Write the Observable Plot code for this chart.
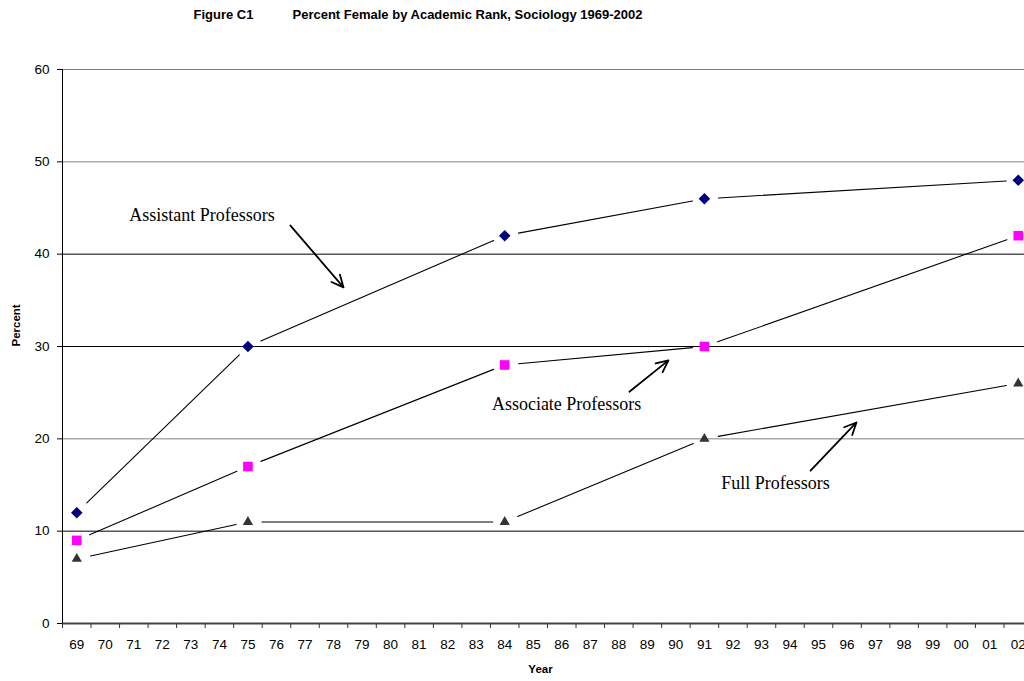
<!DOCTYPE html>
<html><head><meta charset="utf-8">
<script src="https://cdn.jsdelivr.net/npm/d3@7"></script>
<script src="https://cdn.jsdelivr.net/npm/@observablehq/plot@0.6"></script>
<style>body{margin:0;background:#fff}</style>
</head><body><div id="chart"></div>
<script>
const yearLabels = ["69","70","71","72","73","74","75","76","77","78","79","80","81","82","83","84","85","86","87","88","89","90","91","92","93","94","95","96","97","98","99","00","01","02"];
const seriesYears = ["69","75","84","91","02"];
const assistant = [12, 30, 42, 46, 48];
const associate = [9, 17, 28, 30, 42];
const full = [7, 11, 11, 20, 26];
const yTicks = [0, 10, 20, 30, 40, 50, 60];
const noteTexts = ["Assistant Professors", "Associate Professors", "Full Professors"];
const noteX = [4.39, 17.17, 24.49];
const noteY = [44.2, 23.7, 15.15];
const arrowX1 = [7.49, 19.37, 25.72];
const arrowY1 = [43.1, 25.1, 16.57];
const arrowX2 = [9.35, 20.74, 27.33];
const arrowY2 = [36.4, 28.5, 21.77];

const idx = yr => yearLabels.indexOf(yr);
const series = [
  {values: assistant, symbol: "diamond2", fill: "#000080", r: 5.2},
  {values: associate, symbol: "square", fill: "#ff00ff", r: 5.4},
  {values: full, symbol: "triangle", fill: "#333333", r: 3.8}
];
const pts = s => seriesYears.map((yr, i) => ({x: idx(yr), y: s.values[i]}));
const segs = series.flatMap(s => {
  const p = pts(s);
  return p.slice(1).map((q, i) => ({x1: p[i].x, y1: p[i].y, x2: q.x, y2: q.y}));
});
const notes = noteTexts.map((t, i) => ({t, x: noteX[i], y: noteY[i]}));
const arrows = noteTexts.map((t, i) => ({x1: arrowX1[i], y1: arrowY1[i], x2: arrowX2[i], y2: arrowY2[i]}));
const boundaries = d3.range(yearLabels.length + 1).map(i => i - 0.5);
const gridColor = v => (v === 20 || v === 50 || v === 60) ? "#808080" : "#000000";

const chart = Plot.plot({
  width: 1024,
  height: 681,
  marginTop: 69,
  marginBottom: 58,
  marginLeft: 62,
  marginRight: 0,
  style: {fontFamily: "'Liberation Sans', Arial, sans-serif", fontSize: "13.5px", background: "#fff", color: "#000"},
  x: {domain: [-0.5, yearLabels.length - 0.5], range: [62, 1032]},
  y: {domain: [0, 60], range: [623, 69]},
  marks: [
    Plot.ruleY(yTicks.filter(v => v > 0), {y: d => d, stroke: d => gridColor(d), strokeWidth: 1}),
    Plot.ruleY([0], {stroke: "#444444", strokeWidth: 2}),
    Plot.ruleX([-0.5], {stroke: "#000", strokeWidth: 1}),
    Plot.axisX({ticks: boundaries, tickSize: 5, tickFormat: () => "", label: null, stroke: "#333"}),
    Plot.axisX({ticks: d3.range(yearLabels.length), tickSize: 0, tickPadding: 16, tickFormat: i => yearLabels[i], label: null, fontSize: 13.5, fill: "#000"}),
    Plot.axisY({ticks: yTicks, tickSize: 5, tickPadding: 8, label: null, fontSize: 13.5, fill: "#000"}),
    Plot.arrow(segs, {x1: "x1", y1: "y1", x2: "x2", y2: "y2", headLength: 0, insetStart: 14, insetEnd: 12, stroke: "#000", strokeWidth: 1.1}),
    ...series.map(s => Plot.dot(pts(s), {x: "x", y: "y", symbol: s.symbol, fill: s.fill, r: s.r, stroke: "none"})),
    Plot.arrow(arrows, {x1: "x1", y1: "y1", x2: "x2", y2: "y2", headLength: 11, headAngle: 50, stroke: "#000", strokeWidth: 1.8}),
    Plot.text(notes, {x: "x", y: "y", text: "t", fontFamily: "'Liberation Serif', 'Times New Roman', serif", fontSize: 18, fill: "#000", lineAnchor: "middle"}),
    Plot.text(["Percent"], {frameAnchor: "left", dx: -46, rotate: -90, fontWeight: "bold", fontSize: 11.5, fill: "#000"}),
    Plot.text(["Year"], {frameAnchor: "bottom", dx: -3, dy: 49, fontWeight: "bold", fontSize: 11.5, fill: "#000"}),
    Plot.text(["Figure C1"], {frameAnchor: "top-left", dx: 131, dy: -55, textAnchor: "start", lineAnchor: "middle", fontWeight: "bold", fontSize: 13, fill: "#000"}),
    Plot.text(["Percent Female by Academic Rank, Sociology 1969-2002"], {frameAnchor: "top-left", dx: 230, dy: -55, textAnchor: "start", lineAnchor: "middle", fontWeight: "bold", fontSize: 13, fill: "#000"})
  ]
});
document.getElementById("chart").appendChild(chart);
</script>
</body></html>
